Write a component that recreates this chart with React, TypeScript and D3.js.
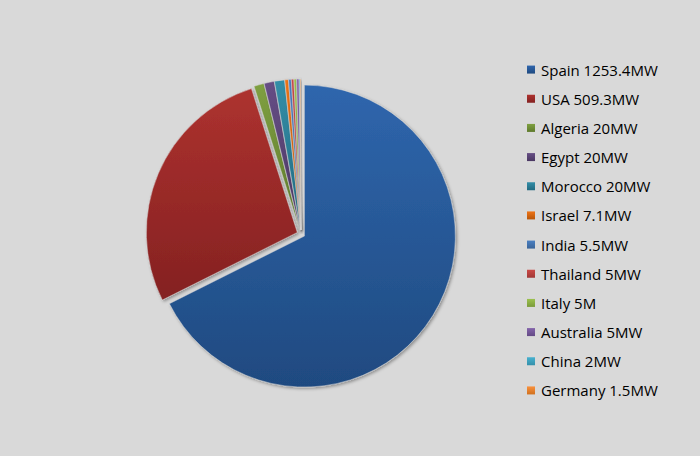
import React from 'react';
import * as d3 from 'd3';

const countries = ['Spain', 'USA', 'Algeria', 'Egypt', 'Morocco', 'Israel', 'India', 'Thailand', 'Italy', 'Australia', 'China', 'Germany'];
const capacities = [1253.4, 509.3, 20, 20, 20, 7.1, 5.5, 5, 5, 5, 2, 1.5];
const legendLabels = ['Spain 1253.4MW', 'USA 509.3MW', 'Algeria 20MW', 'Egypt 20MW', 'Morocco 20MW', 'Israel 7.1MW', 'India 5.5MW', 'Thailand 5MW', 'Italy 5M', 'Australia 5MW', 'China 2MW', 'Germany 1.5MW'];
const colorsTop = ['#2f66ad', '#ad322f', '#7fa041', '#664e85', '#338ea8', '#ee7417', '#4b80c2', '#cc4a47', '#9cc24f', '#8464ab', '#47b1cf', '#f9913d'];
const colorsBottom = ['#1f4a80', '#842121', '#5e7a2c', '#4a3762', '#226a80', '#b85608', '#3a6499', '#a03836', '#7a9a3a', '#644a85', '#3590aa', '#d0701e'];

const W = 700;
const H = 456;
const cx = 301;
const cy = 234;
const radius = 151;
const explode = 4;

const App: React.FC = () => {
  const data = countries.map((c, i) => ({ country: c, value: capacities[i], i }));
  const pie = d3.pie<typeof data[number]>().value(d => d.value).sort(null);
  const arcs = pie(data);
  const arc = d3.arc<d3.PieArcDatum<typeof data[number]>>().innerRadius(0).outerRadius(radius);

  const legendY = d3.scaleBand<number>().domain(d3.range(legendLabels.length)).range([55, 405]);

  return (
    <svg width={W} height={H} style={{ position: 'absolute', left: 0, top: 0 }}>
      <defs>
        {colorsTop.map((c, i) => (
          <linearGradient key={i} id={`g${i}`} x1="0" y1="0" x2="0" y2="1" gradientUnits="objectBoundingBox">
            <stop offset="0%" stopColor={c} />
            <stop offset="100%" stopColor={colorsBottom[i]} />
          </linearGradient>
        ))}
        <filter id="shadow" x="-20%" y="-20%" width="140%" height="140%">
          <feDropShadow dx="1.5" dy="1.5" stdDeviation="1.5" floodColor="#000" floodOpacity="0.35" />
        </filter>
      </defs>
      <rect width={W} height={H} fill="#d9d9d9" />
      <g transform={`translate(${cx},${cy})`}>
        {arcs.map((a, i) => {
          const mid = (a.startAngle + a.endAngle) / 2;
          const dx = Math.sin(mid) * explode;
          const dy = -Math.cos(mid) * explode;
          return (
            <path
              key={i}
              d={arc(a) || ''}
              transform={`translate(${dx},${dy})`}
              fill={`url(#g${i})`}
              stroke="#d9d9d9"
              strokeWidth={0.5}
              filter="url(#shadow)"
            />
          );
        })}
      </g>
      <g fontFamily="'Open Sans', 'Noto Sans', sans-serif" fontSize={15} fill="#000">
        {legendLabels.map((l, i) => {
          const y = (legendY(i) || 0) + legendY.bandwidth() / 2;
          return (
            <g key={l} transform={`translate(527,${y})`}>
              <rect x={0} y={-4} width={8} height={8} fill={`url(#g${i})`} />
              <text x={14} y={0} dominantBaseline="central">{l}</text>
            </g>
          );
        })}
      </g>
    </svg>
  );
};

export default App;
